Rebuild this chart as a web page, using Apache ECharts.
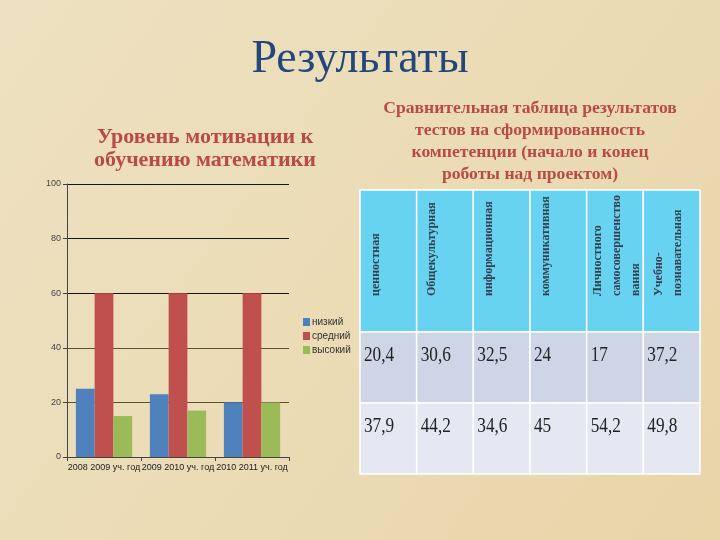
<!DOCTYPE html>
<html>
<head>
<meta charset="utf-8">
<script src="https://cdn.jsdelivr.net/npm/echarts@6/dist/echarts.min.js"></script>
<style>html,body{margin:0;padding:0;}#c{width:720px;height:540px;}</style>
</head>
<body>
<div id="c"></div>
<script>
// ---- data ----
const categories = ['2008 2009 уч. год', '2009 2010 уч. год', '2010 2011 уч. год'];
const seriesNames = ['низкий', 'средний', 'высокий'];
const lowValues = [25, 23, 20];
const midValues = [60, 60, 60];
const highValues = [15, 17, 20];
const yTicks = [0, 20, 40, 60, 80, 100];

const tableHeaders = ['ценностная', 'Общекультурная', 'информационная', 'коммуникативная',
  'Личностного\nсамосовершенство\nвания', 'Учебно-\nпознавательная'];
const rowStart = ['20,4', '30,6', '32,5', '24', '17', '37,2'];
const rowEnd = ['37,9', '44,2', '34,6', '45', '54,2', '49,8'];

// ---- table cells (column, rowStart, rowEnd, text, kind) ----
const cells = [];
tableHeaders.forEach((t, i) => cells.push([i, 0, 2, t, 0]));
rowStart.forEach((t, i) => cells.push([i, 2, 3, t, 1]));
rowEnd.forEach((t, i) => cells.push([i, 3, 4, t, 2]));
const cellFill = ['#67D3F1', '#CDD5E6', '#E4E8F2'];

const chart = echarts.init(document.getElementById('c'));
const serif = '"Liberation Serif", "Times New Roman", serif';
const sans = '"Liberation Sans", Arial, sans-serif';

chart.setOption({
  backgroundColor: {
    type: 'linear', x: 0, y: 0, x2: 1, y2: 1,
    colorStops: [{offset: 0, color: '#EEE1C1'}, {offset: 0.5, color: '#EBDCB6'}, {offset: 1, color: '#E8D5A8'}]
  },
  animation: false,
  title: [
    {text: 'Результаты', left: 'center', top: 32,
     textStyle: {fontFamily: serif, fontSize: 46, fontWeight: 'normal', color: '#23477A'}},
    {text: 'Уровень мотивации к\nобучению математики', left: 200, top: 121, textAlign: 'center',
     textStyle: {fontFamily: serif, fontSize: 22, fontWeight: 'bold', color: '#B94A45', lineHeight: 23}},
    {text: 'Сравнительная таблица результатов\nтестов на сформированность\nкомпетенции (начало и конец\nроботы над проектом)',
     left: 525, top: 92, textAlign: 'center',
     textStyle: {fontFamily: serif, fontSize: 17.6, fontWeight: 'bold', color: '#B94A45', lineHeight: 22}}
  ],
  legend: {
    orient: 'vertical', left: 298, top: 312, itemWidth: 7, itemHeight: 8, itemGap: 4,
    icon: 'rect', data: seriesNames,
    textStyle: {fontFamily: sans, fontSize: 10, color: '#333', padding: [0, 0, 0, -3]}
  },
  grid: [
    {left: 67, right: 431, top: 184, bottom: 83},
    {left: 360, right: 20, top: 190, bottom: 66}
  ],
  xAxis: [
    {type: 'category', gridIndex: 0, data: categories,
     axisLine: {lineStyle: {color: '#444', width: 1}},
     axisTick: {show: true, length: 4, lineStyle: {color: '#444'}},
     axisLabel: {interval: 0, fontFamily: sans, fontSize: 9, color: '#222', margin: 6}},
    {type: 'value', gridIndex: 1, min: 0, max: 6, show: false}
  ],
  yAxis: [
    {type: 'value', gridIndex: 0, min: yTicks[0], max: yTicks[yTicks.length - 1], interval: 20,
     axisLine: {show: true, lineStyle: {color: '#444', width: 1}},
     axisTick: {show: true, length: 4, lineStyle: {color: '#444'}},
     axisLabel: {fontFamily: sans, fontSize: 9, color: '#444', margin: 6},
     splitLine: {lineStyle: {color: ['#444', '#5E4F34', '#5E4F34', '#141414', '#141414', '#141414'], width: 1}}},
    {type: 'value', gridIndex: 1, min: 0, max: 4, inverse: true, show: false}
  ],
  series: [
    {name: seriesNames[0], type: 'bar', data: lowValues, itemStyle: {color: '#4F81BD'},
     barGap: '0%', barCategoryGap: '24%'},
    {name: seriesNames[1], type: 'bar', data: midValues, itemStyle: {color: '#C0504D'}},
    {name: seriesNames[2], type: 'bar', data: highValues, itemStyle: {color: '#9BBB59'}},
    {type: 'custom', xAxisIndex: 1, yAxisIndex: 1, data: cells.map(c => [c[0], c[1], c[2]]),
     renderItem: function (params, api) {
       const c = cells[params.dataIndex];
       const p0 = api.coord([c[0], c[1]]);
       const p1 = api.coord([c[0] + 1, c[2]]);
       const w = p1[0] - p0[0], h = p1[1] - p0[1];
       const children = [{
         type: 'rect', z2: 0, shape: {x: p0[0], y: p0[1], width: w, height: h},
         style: {fill: cellFill[c[4]], stroke: '#FFFFFF', lineWidth: 1.5}
       }];
       if (c[4] === 0) {
         const lines = c[3].split('\n').length;
         const lh = 19;
         const pad = lines > 2 ? 2 : 6;
         children.push({
           type: 'text', z2: 10, x: p0[0] + pad, y: p1[1] - 36, rotation: Math.PI / 2,
           style: {text: c[3], align: 'left', verticalAlign: 'top',
             font: 'bold 12px ' + serif, fill: '#34404F', lineHeight: lh}
         });
       } else {
         children.push({
           type: 'text', z2: 10, x: p0[0] + 4, y: p0[1] + 13, scaleX: 0.82,
           style: {text: c[3], align: 'left', verticalAlign: 'top',
             font: '21px ' + serif, fill: '#222222'}
         });
       }
       return {type: 'group', children: children};
     }}
  ]
});
</script>
</body>
</html>
